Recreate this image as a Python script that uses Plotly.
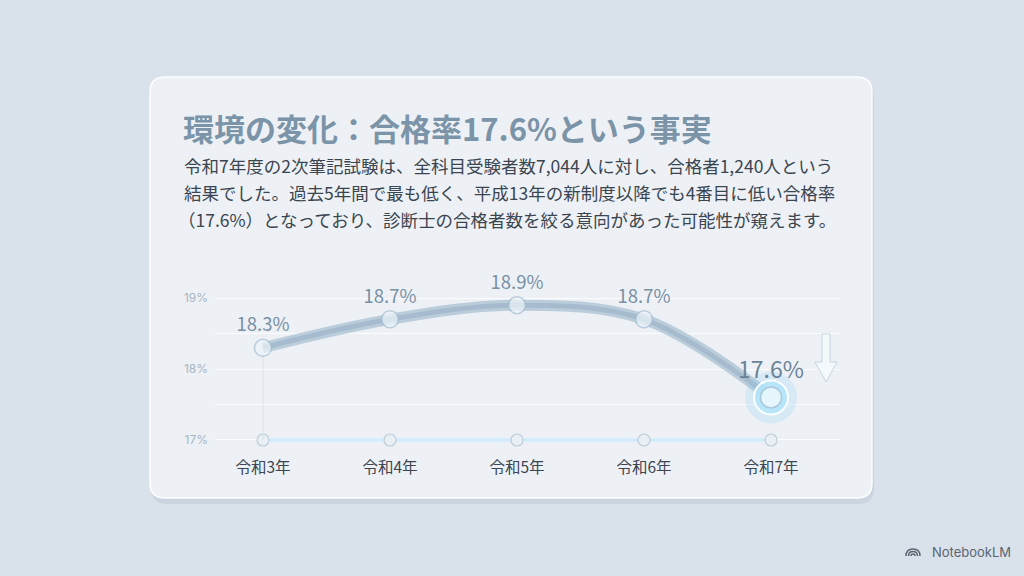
import plotly.graph_objects as go

# ---- data ----
years = ["令和3年", "令和4年", "令和5年", "令和6年", "令和7年"]
rates = [18.3, 18.7, 18.9, 18.7, 17.6]
labels = ["18.3%", "18.7%", "18.9%", "18.7%", "17.6%"]
base_value = 17.0
ytick_vals = [17, 17.5, 18, 18.5, 19]
ytick_text = ["17%", "", "18%", "", "19%"]

title = "環境の変化：合格率17.6%という事実"
body_lines = [
    "令和7年度の2次筆記試験は、全科目受験者数7,044人に対し、合格者1,240人という",
    "結果でした。過去5年間で最も低く、平成13年の新制度以降でも4番目に低い合格率",
    "（17.6%）となっており、診断士の合格者数を絞る意向があった可能性が窺えます。",
]

FONT = "Noto Sans CJK JP"
W_FIG, H_FIG = 1024, 576
L, R, T, B = 215, 840, 280, 450


def px(x):
    return (x - L) / (R - L)


def py(y):
    return (B - y) / (B - T)


def rounded_rect(x1, y1, x2, y2, r):
    rx = r / (R - L)
    ry = r / (B - T)
    a, b, c, d = px(x1), py(y1), px(x2), py(y2)
    return (f"M {a+rx},{b} L {c-rx},{b} Q {c},{b} {c},{b-ry} "
            f"L {c},{d+ry} Q {c},{d} {c-rx},{d} L {a+rx},{d} "
            f"Q {a},{d} {a},{d+ry} L {a},{b-ry} Q {a},{b} {a+rx},{b} Z")


def poly(points):
    return "M " + " L ".join(f"{px(x)},{py(y)}" for x, y in points) + " Z"


fig = go.Figure()

# baseline at 17%
fig.add_trace(go.Scatter(
    x=years, y=[base_value] * len(years), mode="lines",
    line=dict(color="rgba(208,236,250,1)", width=3.5),
    hoverinfo="skip", showlegend=False))
fig.add_trace(go.Scatter(
    x=years, y=[base_value] * len(years), mode="markers",
    marker=dict(size=12, color="#e9f0f5", line=dict(color="#bfcdd8", width=1.2)),
    hoverinfo="skip", showlegend=False))

# faint drop line at first point
fig.add_trace(go.Scatter(
    x=[years[0], years[0]], y=[base_value, rates[0]], mode="lines",
    line=dict(color="rgba(205,215,226,0.5)", width=1),
    hoverinfo="skip", showlegend=False))

# thick translucent band
fig.add_trace(go.Scatter(
    x=years, y=rates, mode="lines",
    line=dict(color="rgba(170,192,210,0.75)", width=11, shape="spline", smoothing=1.0),
    hoverinfo="skip", showlegend=False))
fig.add_trace(go.Scatter(
    x=years, y=rates, mode="lines",
    line=dict(color="rgba(150,174,194,0.55)", width=5, shape="spline", smoothing=1.0),
    hoverinfo="skip", showlegend=False))

# glow for last point
fig.add_trace(go.Scatter(
    x=[years[-1]], y=[rates[-1]], mode="markers",
    marker=dict(size=52, color="rgba(130,205,245,0.20)"),
    hoverinfo="skip", showlegend=False))
fig.add_trace(go.Scatter(
    x=[years[-1]], y=[rates[-1]], mode="markers",
    marker=dict(size=34, color="rgba(180,228,250,0.9)", line=dict(color="rgba(255,255,255,0.95)", width=2)),
    hoverinfo="skip", showlegend=False))

# points + labels
fig.add_trace(go.Scatter(
    x=years, y=rates, mode="markers+text",
    text=labels, textposition="top center",
    textfont=dict(family=FONT, size=[18.5, 18.5, 18.5, 18.5, 23],
                  color=["#7890a4", "#7890a4", "#7890a4", "#7890a4", "#6b8396"]),
    marker=dict(size=[17, 17, 17, 17, 21], color=["#eef5fa"] * 4 + ["#fbfeff"],
                line=dict(color="rgba(165,190,210,1)", width=1.5)),
    cliponaxis=False, hoverinfo="skip", showlegend=False))

# down arrow (decoration)
ax_c, ay_top, ay_neck, ay_tip = 826, 334, 362, 382
arrow_path = poly([(ax_c - 4, ay_top), (ax_c + 4, ay_top), (ax_c + 4, ay_neck),
                   (ax_c + 11, ay_neck), (ax_c, ay_tip), (ax_c - 11, ay_neck),
                   (ax_c - 4, ay_neck)])


# NotebookLM icon arcs
def arc_path(cx, cy, r):
    return (f"M {px(cx - r)},{py(cy)} Q {px(cx - r)},{py(cy - r)} {px(cx)},{py(cy - r)} "
            f"Q {px(cx + r)},{py(cy - r)} {px(cx + r)},{py(cy)}")


shapes = [
    dict(type="path", xref="paper", yref="paper", path=rounded_rect(151, 81, 874, 504, 16),
         fillcolor="rgba(120,140,165,0.14)", line=dict(width=0), layer="below"),
    dict(type="path", xref="paper", yref="paper", path=rounded_rect(150, 77, 872, 498, 15),
         fillcolor="rgba(237,242,247,0.97)", line=dict(color="rgba(255,255,255,0.95)", width=1.5),
         layer="below"),
    dict(type="path", xref="paper", yref="paper", path=arrow_path,
         fillcolor="rgba(244,249,252,0.95)", line=dict(color="rgba(190,208,222,0.9)", width=1)),
]
for r in (7, 4.5, 2):
    shapes.append(dict(type="path", xref="paper", yref="paper", path=arc_path(913, 556, r),
                       line=dict(color="#5c6570", width=1.5)))

annotations = [
    dict(text=f"<b>{title}</b>", xref="paper", yref="paper", x=px(181), y=py(127),
         xanchor="left", yanchor="middle", showarrow=False,
         font=dict(family=FONT, size=31, color="#7b94a8")),
]
for i, line in enumerate(body_lines):
    annotations.append(dict(
        text=line, xref="paper", yref="paper", x=px(182 if i < 2 else 176), y=py(165 + 27 * i),
        xanchor="left", yanchor="middle", showarrow=False,
        font=dict(family=FONT, size=17.5, color="#3b4550")))

# watermark
annotations.append(dict(
    text="NotebookLM", xref="paper", yref="paper", x=px(1013), y=py(552),
    xanchor="right", yanchor="middle", showarrow=False,
    font=dict(family="Inter", size=13, color="#5c6570")))

fig.update_layout(
    width=W_FIG, height=H_FIG,
    margin=dict(l=L, r=W_FIG - R, t=T, b=H_FIG - B, pad=0),
    paper_bgcolor="#d9e1ea", plot_bgcolor="rgba(0,0,0,0)",
    shapes=shapes, annotations=annotations, showlegend=False,
    xaxis=dict(type="category", range=[-0.378, 4.543], showgrid=False, zeroline=False,
               showline=False, ticks="", ticklabelstandoff=6,
               tickfont=dict(family=FONT, size=15.5, color="#3c4551")),
    yaxis=dict(range=[16.859, 19.254], tickvals=ytick_vals, ticktext=ytick_text,
               showgrid=True, gridcolor="rgba(255,255,255,0.8)", gridwidth=1,
               zeroline=False, showline=False, ticks="",
               tickfont=dict(family="Inter", size=12, color="#a8b5c1"), ticklabelstandoff=6),
)

fig.write_html("out.html", config={"displayModeBar": False},
               post_script="document.body.style.margin='0';")
